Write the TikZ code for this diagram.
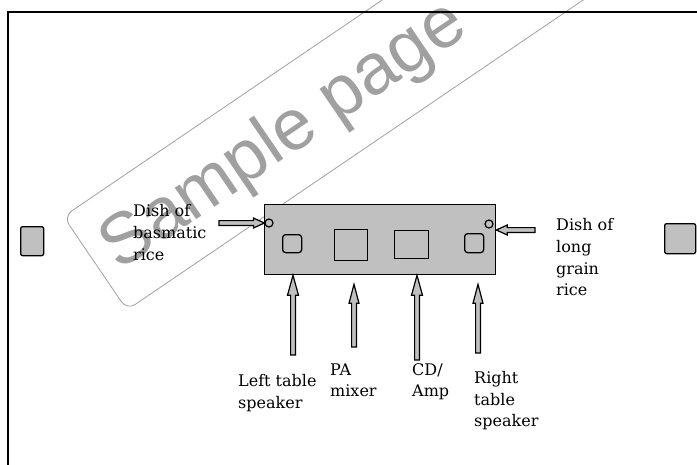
\documentclass[tikz,border=0pt]{standalone}
\usepackage{fontspec}
\newfontfamily\lblfont{DejaVu Serif}
\newfontfamily\wmfont{Liberation Sans}
\usetikzlibrary{calc}
\definecolor{boxgray}{RGB}{192,192,192}
\definecolor{wmgray}{RGB}{160,160,160}
\newcommand\fatarr[4]{%
  \draw[fatline] let \p1=($(#2)-(#1)$), \n1={veclen(\x1,\y1)}, \n2={atan2(\y1,\x1)} in
    ($(#1)+({\n2+90}:2.4pt)$)
    -- ($(#1)+({\n2}:{\n1-#3})+({\n2+90}:2.4pt)$)
    -- ($(#1)+({\n2}:{\n1-#3})+({\n2+90}:#4)$)
    -- (#2)
    -- ($(#1)+({\n2}:{\n1-#3})+({\n2-90}:#4)$)
    -- ($(#1)+({\n2}:{\n1-#3})+({\n2-90}:2.4pt)$)
    -- ($(#1)+({\n2-90}:2.4pt)$) -- cycle;}
\begin{document}
\begin{tikzpicture}[x=1pt,y=1pt,
  lbl/.style={font=\lblfont\fontsize{16}{21.7}\selectfont, align=left, inner sep=0pt, anchor=base west},
  box/.style={draw=black, line width=1.3pt, fill=boxgray, inner sep=0pt, anchor=north west},
  fatline/.style={draw=black, line width=1.2pt, fill=boxgray, line join=miter},
  wm/.style={draw=wmgray, line width=0.8pt}
]
\useasboundingbox (0,0) rectangle (697,-464);
\clip (0,0) rectangle (697,-464);

% watermark
\begin{scope}[shift={(127,-310)}, rotate=34.2]
  \draw[wm, rounded corners=10pt] (0,0) rectangle (640,113);
  \node[font=\wmfont\fontsize{72}{72}\selectfont, text=wmgray, anchor=base west, inner sep=0pt, rotate=34.2] (wmtext) at (15,36) {Sample page};
\end{scope}

% frame
\draw[line width=1.3pt] (8,-470) -- (8,-12) -- (705,-12);

% tables and panel
\node[box, rounded corners=2pt, minimum width=23pt, minimum height=29pt] (tableL) at (20,-226) {};
\node[box, rounded corners=2pt, minimum width=31pt, minimum height=30pt] (tableR) at (664,-223) {};
\node[box, minimum width=231pt, minimum height=70pt] (panel) at (264,-204) {};
\node[box, rounded corners=3pt, minimum width=19pt, minimum height=18pt] (spkL) at (282,-234) {};
\node[box, minimum width=33pt, minimum height=31pt] (mixer) at (334,-229) {};
\node[box, minimum width=34pt, minimum height=28pt] (amp) at (394,-230) {};
\node[box, rounded corners=3pt, minimum width=19pt, minimum height=19pt] (spkR) at (464,-233) {};
\node[draw, circle, line width=1.2pt, fill=boxgray, minimum size=8pt, inner sep=0pt] (dishL) at (269,-223) {};
\node[draw, circle, line width=1.2pt, fill=boxgray, minimum size=8pt, inner sep=0pt] (dishR) at (489,-224) {};

% labels (anchor = baseline of last line)
\node[lbl] (lblDishL) at (133,-260.1) {Dish of\\basmatic\\rice};
\node[lbl] (lblDishR) at (556,-295.8) {Dish of\\long\\grain\\rice};
\node[lbl] (lblLeft) at (238,-408.4) {Left table\\speaker};
\node[lbl] (lblPA) at (330,-396.7) {PA\\mixer};
\node[lbl] (lblCD) at (412,-396.7) {CD/\\Amp};
\node[lbl] (lblRight) at (474,-426.7) {Right\\table\\speaker};

% arrow ends
\coordinate (a1s) at (293,-355);
\coordinate (a1e) at ($(panel.south west)+(29,0)$);
\coordinate (a2s) at (354,-347);
\coordinate (a2e) at ($(panel.south west)+(90,-9)$);
\coordinate (a3s) at (417,-360);
\coordinate (a3e) at ($(panel.south west)+(153,0)$);
\coordinate (a4s) at (478,-353);
\coordinate (a4e) at ($(panel.south west)+(214,-9)$);
\coordinate (hls) at (219,-223);
\coordinate (hrs) at (535,-230);
\coordinate (hre) at ($(panel.north east)+(0,-26)$);

\fatarr{a1s}{a1e}{20pt}{5.5pt}
\fatarr{a2s}{a2e}{19pt}{5pt}
\fatarr{a3s}{a3e}{20pt}{5.5pt}
\fatarr{a4s}{a4e}{19pt}{5pt}
\fatarr{hls}{dishL.west}{11pt}{5pt}
\fatarr{hrs}{hre}{11pt}{5pt}
\end{tikzpicture}
\end{document}
